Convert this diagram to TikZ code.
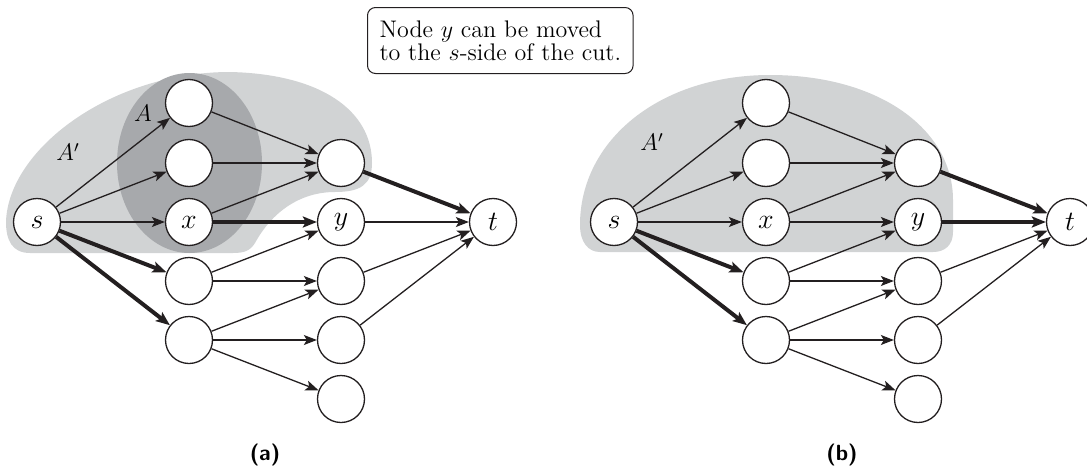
\RequirePackage{fix-cm}
\documentclass[tikz,border=0pt]{standalone}
\usepackage{fontspec}
\usetikzlibrary{arrows.meta}

\definecolor{ink}{HTML}{231F20}
\definecolor{cutlight}{HTML}{D1D3D4}
\definecolor{cutdark}{HTML}{A7A9AC}

\tikzset{
  vtx/.style={circle, draw=ink, line width=0.65pt, fill=white,
    minimum size=23.5pt, inner sep=0pt, font=\fontsize{14}{14}\selectfont},
  edge/.style={draw=ink, line width=0.65pt,
    -{Stealth[length=6.5pt,width=5pt,inset=1.5pt]}},
  heavy/.style={edge, line width=2pt,
    -{Stealth[length=7pt,width=5.5pt,inset=1.5pt]}},
  setname/.style={inner sep=0pt, font=\fontsize{12}{12}\selectfont},
  callout/.style={draw=ink, line width=0.5pt, rounded corners=4pt, align=left,
    anchor=north west, minimum width=124pt, minimum height=33pt,
    inner xsep=6pt, font=\fontsize{12}{11.5}\selectfont},
  panel/.style={font=\fontsize{11}{11}\selectfont\sffamily\bfseries},
}

\begin{document}
\begin{tikzpicture}[x=0.5pt, y=-0.5pt]
\useasboundingbox (0,0) rectangle (1087,471);

% ============================
% Cut regions
% ============================
% (a): A' and A
\fill[cutlight] (30,253) .. controls (12,253) and (6,240) .. (6,222)
  .. controls (8,150) and (110,72) .. (230,72)
  .. controls (320,74) and (372,110) .. (372,163)
  .. controls (372,185) and (360,192) .. (335,192)
  .. controls (300,192) and (272,212) .. (255,243)
  .. controls (250,251) and (244,253) .. (233,253) -- cycle;
\fill[cutdark] (189.5,163) ellipse [x radius=72.5, y radius=90];

% (b): enlarged A'
\fill[cutlight] (600,252) .. controls (588,252) and (580,242) .. (580,225)
  .. controls (580,140) and (660,75) .. (770,75)
  .. controls (880,75) and (953,130) .. (953,200)
  -- (953,232) .. controls (953,245) and (945,252) .. (933,252) -- cycle;

\node[setname] (setA)  at (143,113) {$A$};
\node[setname] (setAa) at (68,152)  {$A'$};
\node[setname] (setAb) at (652,142) {$A'$};

% ============================
% Vertices
% ============================
\foreach \p/\dx in {a/0,b/577}{
  \node[vtx] (\p-s) at (37+\dx,222) {$s$};
  \foreach \i/\y/\txt in {1/103/,2/163/,3/222/$x$,4/281/,5/340/}
    \node[vtx] (\p-u\i) at (189+\dx,\y) {\txt};
  \foreach \i/\y/\txt in {1/163/,2/222/$y$,3/281/,4/340/,5/399/}
    \node[vtx] (\p-w\i) at (341+\dx,\y) {\txt};
  \node[vtx] (\p-t) at (493+\dx,222) {$t$};
}

% ============================
% Edges
% ============================
\foreach \p in {a,b}{
  \foreach \v in {u1,u2,u3}
    \draw[edge] (\p-s) -- (\p-\v);
  \draw[heavy] (\p-s) -- (\p-u4);
  \draw[heavy] (\p-s) -- (\p-u5);
  \foreach \a/\b in {u1/w1,u2/w1,u3/w1,u4/w2,u4/w3,u5/w3,u5/w4,u5/w5}
    \draw[edge] (\p-\a) -- (\p-\b);
  \draw[heavy] (\p-w1) -- (\p-t);
  \foreach \a in {w3,w4}
    \draw[edge] (\p-\a) -- (\p-t);
}
\draw[heavy] (a-u3) -- (a-w2);
\draw[edge]  (a-w2) -- (a-t);
\draw[edge]  (b-u3) -- (b-w2);
\draw[heavy] (b-w2) -- (b-t);

% ============================
% Note and captions
% ============================
\node[callout] (note) at (367,7)
  {Node $y$ can be moved\\to the $s$-side of the cut.};

\node[panel] (capa) at (265,455) {(a)};
\node[panel] (capb) at (842,455) {(b)};

\end{tikzpicture}
\end{document}
